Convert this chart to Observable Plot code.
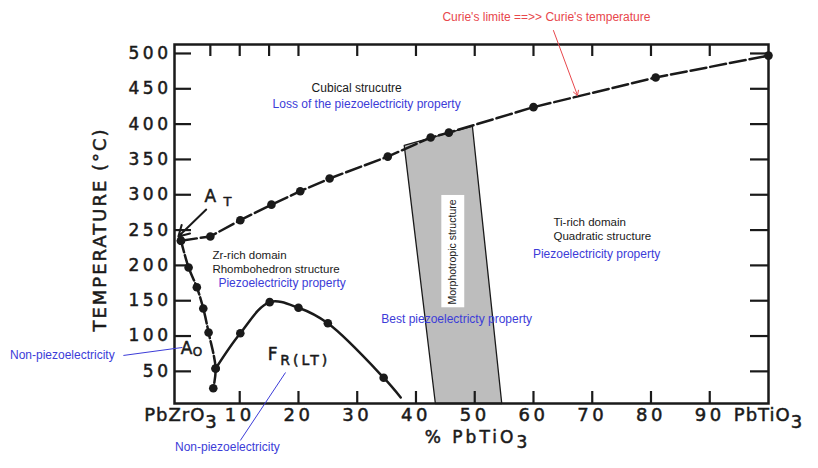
<!DOCTYPE html>
<html><head><meta charset="utf-8">
<script src="https://cdn.jsdelivr.net/npm/d3@7"></script>
<script src="https://cdn.jsdelivr.net/npm/@observablehq/plot@0.6"></script>
<style>
body{margin:0;background:#fff;}
</style>
</head><body><div id="chart"></div>
<script>
// Curie temperature line (paraelectric cubic / ferroelectric boundary)
const curieX = [0, 5, 10.1, 15.4, 20.3, 25.3, 35.2, 42.5, 45.6, 60, 80.8, 100];
const curieY = [235, 241, 264, 286, 305, 323, 354, 381, 388, 424, 466, 497];
// A_O boundary (antiferroelectric region)
const rhomboX = [0, 1.3, 2.7, 3.8, 4.7, 5.9, 5.5];
const rhomboY = [235, 197, 169, 139, 105, 54, 26];
// F_R(LT) boundary
const frltX = [5.9, 10.1, 15.1, 20, 25, 34.5, 37.4];
const frltY = [54, 104, 148, 140, 118, 41, 13];
// morphotropic band outline
const bandX = [38.0, 43.3, 54.6, 49.6, 38.0];
const bandY = [370, 4.5, 4.5, 397, 370];
// axis ticks
const yTicks = [50, 100, 150, 200, 250, 300, 350, 400, 450, 500];
const xTicks = [0, 10, 20, 30, 40, 50, 60, 70, 80, 90, 100];
const xTickLabels = ["PbZrO₃", "10", "20", "30", "40", "50", "60", "70", "80", "90", "PbTiO₃"];
const topTicks = [5, 10, 15, 20, 30, 40, 50, 60, 70, 80, 90];

const curie = curieX.map((x, i) => ({x, y: curieY[i]}));
const rhombo = rhomboX.map((x, i) => ({x, y: rhomboY[i]}));
const frlt = frltX.map((x, i) => ({x, y: frltY[i]}));
const band = bandX.map((x, i) => ({x, y: bandY[i]}));
const xLabelMap = new Map(xTicks.map((t, i) => [t, xTickLabels[i]]));

const BLUE = "#3c3cd8", RED = "#e8474c", INK = "#1a1a1a";
const SMALL = {fontFamily: "Liberation Sans", fontSize: 12};
const BIG = {fontFamily: "DejaVu Sans", stroke: INK, strokeWidth: 0.5};
function note(str, x, y, opts = {}) {
  return Plot.text([str], {x, y, text: d => d, fill: INK, ...SMALL, ...opts});
}

const W = 818, H = 468, ML = 174, MR = 50, MT = 44, MB = 65;
const FW = W - ML - MR, FH = H - MT - MB;

const chart = Plot.plot({
  width: W, height: H,
  marginLeft: ML, marginRight: MR, marginTop: MT, marginBottom: MB,
  style: {background: "white", overflow: "visible"},
  x: {domain: [-1.1, 100]},
  y: {domain: [4.5, 512.7]},
  marks: [
    // morphotropic band
    Plot.line(band, {x: "x", y: "y", fill: "#bdbdbd", stroke: INK, strokeWidth: 1.3}),
    Plot.rect([0], {x1: 44.4, x2: 48.3, y1: 140, y2: 299, fill: "white"}),
    note("Morphotropic structure", 46.3, 219, {rotate: -90, fontSize: 10.5}),
    // inward ticks
    Plot.ruleY(yTicks, {y: d => d, insetRight: FW - 17, stroke: INK, strokeWidth: 2.2}),
    Plot.ruleY(yTicks, {y: d => d, insetLeft: FW - 18, stroke: INK, strokeWidth: 2.2}),
    Plot.ruleX(topTicks, {x: d => d, insetBottom: FH - 12, stroke: INK, strokeWidth: 2.2}),
    Plot.ruleX(xTicks.slice(1, -1), {x: d => d, insetTop: FH - 12, stroke: INK, strokeWidth: 2.2}),
    // curves
    Plot.line(curie, {x: "x", y: "y", stroke: INK, strokeWidth: 2.5, strokeDasharray: "16,4"}),
    Plot.line(rhombo, {x: "x", y: "y", stroke: INK, strokeWidth: 2.5, strokeDasharray: "12,3", curve: "catmull-rom"}),
    Plot.line(frlt, {x: "x", y: "y", stroke: INK, strokeWidth: 2.5, curve: "catmull-rom"}),
    Plot.dot(curie, {x: "x", y: "y", r: 4.3, fill: INK}),
    Plot.dot(rhombo, {x: "x", y: "y", r: 4.3, fill: INK}),
    Plot.dot(frlt, {x: "x", y: "y", r: 4.3, fill: INK, filter: (d, i) => i < frlt.length - 1}),
    Plot.frame({stroke: INK, strokeWidth: 2.5}),
    // axes
    Plot.axisY({ticks: yTicks, tickSize: 0, tickPadding: 3, fontSize: 17,
      fontFamily: "DejaVu Sans", label: null, fill: INK}),
    Plot.axisX({ticks: xTicks, tickFormat: d => xLabelMap.get(d), tickSize: 0, tickPadding: 5,
      fontSize: 18, fontFamily: "DejaVu Sans", label: null, fill: INK}),
    Plot.text(["TEMPERATURE (°C)"], {text: d => d, frameAnchor: "left", textAnchor: "middle",
      dx: -74, dy: 5.5, rotate: -90, fontSize: 18, fill: INK, ...BIG}),
    Plot.text(["% PbTiO₃"], {text: d => d, frameAnchor: "bottom", textAnchor: "middle", dx: 6, dy: 39,
      fontSize: 17, fill: INK, ...BIG}),
    // labels on the diagram
    note("A", 5.0, 297.5, {fontSize: 17, ...BIG}),
    note("T", 7.9, 290.5, {fontSize: 13, ...BIG}),
    Plot.arrow([0], {x1: 4.3, y1: 279, x2: -0.44, y2: 241, stroke: INK, strokeWidth: 2, headLength: 9}),
    note("A", 0.95, 82.4, {fontSize: 17, ...BIG}),
    note("O", 2.8, 76.7, {fontSize: 12, ...BIG}),
    note("F", 15.6, 73.9, {fontSize: 17, ...BIG}),
    note("R(LT)", 16.9, 65.4, {fontSize: 14, textAnchor: "start", ...BIG}),
    // annotations
    note("Curie's limite ==>> Curie's temperature", 62.2, 551, {fill: RED}),
    Plot.arrow([0], {x1: 63.4, y1: 532.5, x2: 67.5, y2: 440.5, stroke: RED, strokeWidth: 1, headLength: 8}),
    note("Cubical strucutre", 29.9, 450.4),
    note("Loss of the piezoelectricity property", 31.6, 427.8, {fill: BLUE}),
    note("Zr-rich domain", 5.35, 214, {textAnchor: "start", fontSize: 11.5}),
    note("Rhombohedron structure", 5.35, 195, {textAnchor: "start", fontSize: 11.5}),
    note("Piezoelectricity property", 6.37, 174.4, {textAnchor: "start", fill: BLUE}),
    note("Ti-rich domain", 63.4, 260.5, {textAnchor: "start", fontSize: 11.5}),
    note("Quadratic structure", 63.4, 241.5, {textAnchor: "start", fontSize: 11.5}),
    note("Piezoelectricity property", 59.9, 215.4, {textAnchor: "start", fill: BLUE}),
    note("Best piezoelectricty property", 34.1, 123.4, {textAnchor: "start", fill: BLUE}),
    note("Non-piezoelectricity", -29.1, 72.5, {textAnchor: "start", fill: BLUE}),
    Plot.link([0], {x1: -9.8, y1: 72.5, x2: 0.24, y2: 83.8, stroke: BLUE, strokeWidth: 1}),
    note("Non-piezoelectricity", 7.9, -57.8, {fill: BLUE}),
    Plot.link([0], {x1: 10.1, y1: -47.9, x2: 17.8, y2: 48.4, stroke: BLUE, strokeWidth: 1})
  ]
});
document.getElementById("chart").appendChild(chart);

// typographic touches: spacing and weight of the big lettering, real subscripts for the formula 3
const svg = d3.select(chart);
svg.selectAll('g[aria-label="y-axis tick label"] text, g[aria-label="x-axis tick label"] text')
  .style("stroke", INK).style("stroke-width", "0.5px")
  .style("letter-spacing", function () { return /Pb/.test(this.textContent) ? "1px" : "3.5px"; });
svg.selectAll("text").each(function () {
  const t = this.textContent;
  if (t === "TEMPERATURE (°C)") d3.select(this).style("letter-spacing", "2px");
  if (t === "R(LT)" || t === "% PbTiO₃") d3.select(this).style("letter-spacing", "3px");
  if (t.includes("₃")) {
    const s = d3.select(this);
    s.text(null);
    s.append("tspan").text(t.replace("₃", ""));
    s.append("tspan").attr("dy", "0.35em").text("3");
  }
});
</script>
</body></html>
